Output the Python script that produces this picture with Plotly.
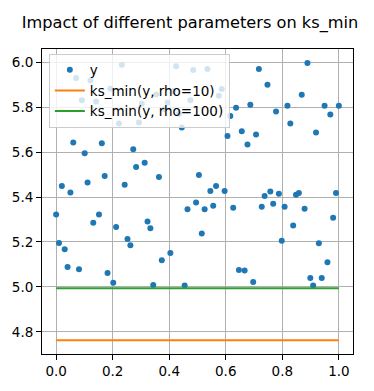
import numpy as np
import plotly.graph_objects as go

# x sample positions (100 evenly spaced samples on [0, 1])
x = np.linspace(0, 1, 100)

# y values
y = [5.322, 5.195, 5.449, 5.167, 5.089, 5.420, 5.643, 5.930, 5.079, 5.830,
     5.595, 5.464, 5.918, 5.286, 5.825, 5.322, 5.639, 5.493, 5.062, 5.882,
     5.019, 5.266, 5.727, 5.988, 5.454, 5.213, 5.185, 5.612, 5.533, 5.731,
     5.815, 5.552, 5.291, 5.261, 5.009, 5.856, 5.489, 5.119, 5.790, 5.820,
     5.151, 5.870, 5.982, 5.770, 5.709, 5.006, 5.345, 5.830, 5.965, 5.376,
     5.498, 5.238, 5.345, 5.970, 5.427, 5.361, 5.449, 5.850, 5.880, 5.427,
     5.671, 5.760, 5.352, 5.797, 5.075, 5.692, 5.073, 5.634, 5.810, 5.022,
     5.678, 5.970, 5.357, 5.405, 5.899, 5.424, 5.370, 5.780, 5.414, 5.205,
     5.357, 5.806, 5.727, 5.273, 5.410, 5.418, 5.855, 5.348, 5.996, 5.040,
     5.006, 5.687, 5.194, 5.040, 5.806, 5.110, 5.767, 5.308, 5.418, 5.806]

ks_min_rho10 = 4.763
ks_min_rho100 = 4.994

xticks = [0.0, 0.2, 0.4, 0.6, 0.8, 1.0]
yticks = [4.8, 5.0, 5.2, 5.4, 5.6, 5.8, 6.0]

FONT = "DejaVu Sans"

fig = go.Figure()
fig.add_trace(go.Scatter(
    x=x, y=y, mode="markers", name="y",
    marker=dict(color="#1f77b4", size=6, line=dict(width=0)),
))
fig.add_trace(go.Scatter(
    x=x, y=[ks_min_rho10] * len(x), mode="lines", name="ks_min(y, rho=10)",
    line=dict(color="#ff7f0e", width=2),
))
fig.add_trace(go.Scatter(
    x=x, y=[ks_min_rho100] * len(x), mode="lines", name="ks_min(y, rho=100)",
    line=dict(color="#2ca02c", width=2),
))

axis_common = dict(
    showline=True, linecolor="black", linewidth=1, mirror=True,
    ticks="outside", ticklen=5, tickwidth=1, tickcolor="black",
    showgrid=True, gridcolor="#b0b0b0", gridwidth=1, zeroline=False,
    tickfont=dict(family=FONT, size=13.5, color="black"),
)

fig.update_layout(
    width=374, height=391,
    margin=dict(l=42, r=21, t=49, b=34),
    paper_bgcolor="white", plot_bgcolor="white",
    title=dict(text="Impact of different parameters on ks_min",
               x=190 / 374, xref="container", xanchor="center",
               y=1 - 22 / 391, yref="container", yanchor="middle",
               font=dict(family=FONT, size=16.2, color="black")),
    xaxis=dict(range=[-0.05, 1.05], tickvals=xticks, tickformat=".1f", **axis_common),
    yaxis=dict(range=[4.7015, 6.0585], tickvals=yticks, tickformat=".1f", **axis_common),
    legend=dict(x=0.022, y=0.985, xanchor="left", yanchor="top",
                bgcolor="rgba(255,255,255,0.8)", bordercolor="#cccccc", borderwidth=1,
                font=dict(family=FONT, size=13.5, color="black"),
                tracegroupgap=0),
    showlegend=True,
)

fig.write_html("out.html", config={"displayModeBar": False},
               post_script="document.body.style.margin='0';")
